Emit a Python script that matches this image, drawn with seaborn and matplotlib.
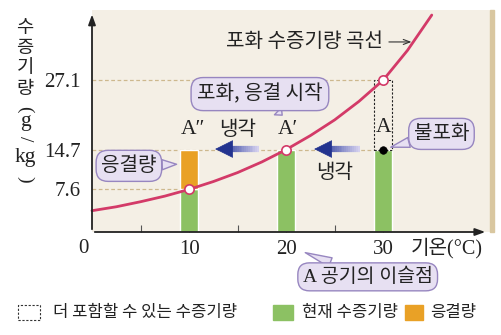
import numpy as np
import pandas as pd
import matplotlib
matplotlib.use("Agg")
import matplotlib.pyplot as plt
import seaborn as sns
from matplotlib.patches import Rectangle
from matplotlib.collections import LineCollection

sns.set_theme(style="white")
KR = "Noto Sans CJK KR"
SERIF = ["Liberation Serif", "Noto Sans CJK KR"]
plt.rcParams["font.family"] = [KR, "DejaVu Sans"]

# ---- data ----
curve_temp = [0, 2.5, 5, 7.5, 10, 12.5, 15, 17.5, 20, 22.5, 25, 27.5, 30, 32.5, 35]
curve_sat = [3.8, 4.5, 5.4, 6.4, 7.6, 9.0, 10.6, 12.5, 14.7, 17.2, 20.0, 23.3, 27.1, 32.4, 38.7]
bar_temp = [10, 20, 30]
bar_current = [7.6, 14.7, 14.7]
cond_temp = [10]
cond_bottom = [7.6]
cond_amount = [7.1]
extra_temp = [30]
extra_bottom = [14.7]
extra_amount = [12.4]
sat_points_t = [10, 20, 30]
sat_points_v = [7.6, 14.7, 27.1]
unsat_t = [30]
unsat_v = [14.7]
ytick_vals = [7.6, 14.7, 27.1]
ytick_labels = ["7.6", "14.7", "27.1"]
xtick_vals = [5, 10, 15, 20, 25, 30]
xtick_labels = ["", "10", "", "20", "", "30"]

GREEN = "#8cc163"
ORANGE = "#e9a126"
CURVE = "#d33a68"
TAN = "#cdb88e"
BOXFC = "#e7e0f2"
BOXEC = "#9786c0"
TXT = "#222222"

W, H = 502, 335
fig = plt.figure(figsize=(W / 100, H / 100), dpi=100)
fig.patch.set_facecolor("white")
x0, y0, x1, y1 = 92, 232, 490, 10
ax = fig.add_axes([x0 / W, (H - y0) / H, (x1 - x0) / W, (y0 - y1) / H])
ax.set_facecolor("#f4efe5")
ax.set_xlim(0, 41.0)
ax.set_ylim(0, 39.6)
for s in ax.spines.values():
    s.set_visible(False)

# right shadow of panel
fig.patches.append(Rectangle((490 / W, (H - 232) / H), 4 / W, 222 / H,
                             transform=fig.transFigure, color="#d9c7a0", zorder=0))

# reference dashed lines
ax.plot([0, 29.0], [27.1, 27.1], ls=(0, (3, 2)), color=TAN, lw=0.9, zorder=1)
ax.plot([0, 30], [14.7, 14.7], ls=(0, (3, 2)), color=TAN, lw=0.9, zorder=1)
ax.plot([0, 10], [7.6, 7.6], ls=(0, (3, 2)), color=TAN, lw=0.9, zorder=1)

# bars
ax.bar(bar_temp, bar_current, width=1.9, color=GREEN, zorder=2)
ax.bar(cond_temp, cond_amount, bottom=cond_bottom, width=1.9, color=ORANGE, zorder=2)
ax.bar(extra_temp, extra_amount, bottom=extra_bottom, width=1.9, fill=False,
       ec="#222222", ls=(0, (2, 1.5)), lw=0.8, zorder=2)

# curve
df = pd.DataFrame({"t": curve_temp, "v": curve_sat})
sns.lineplot(data=df, x="t", y="v", color=CURVE, lw=2, ax=ax, zorder=3, clip_on=False)
sns.scatterplot(x=sat_points_t, y=sat_points_v, s=45, color="white", edgecolor=CURVE,
                linewidth=1.2, ax=ax, zorder=5)
sns.scatterplot(x=unsat_t, y=unsat_v, s=30, color="black", edgecolor="black", ax=ax, zorder=5)
ax.set_xlabel("")
ax.set_ylabel("")

# axes arrows
ax.annotate("", xy=(40.8, 0), xytext=(0, 0),
            arrowprops=dict(arrowstyle="-|>,head_length=0.5,head_width=0.18", color="#222222", lw=1.3),
            annotation_clip=False, zorder=6)
ax.annotate("", xy=(0, 39.3), xytext=(0, 0),
            arrowprops=dict(arrowstyle="-|>,head_length=0.5,head_width=0.18", color="#222222", lw=1.3),
            annotation_clip=False, zorder=6)

# ticks
ax.set_xticks(xtick_vals)
ax.set_xticklabels(xtick_labels, family=SERIF, fontsize=15, color=TXT)
ax.tick_params(axis="x", direction="in", length=5, width=0.8, color="#555555", pad=6, bottom=True)
ax.set_yticks(ytick_vals)
ax.set_yticklabels(ytick_labels, family=SERIF, fontsize=15, color=TXT)
ax.tick_params(axis="y", length=0, pad=8)
ax.text(-0.9, -2.9, "0", ha="center", va="center", family=SERIF, fontsize=15, color=TXT)

# y label stacked vertically
def fy(py):
    return 1 - py / H
yl = [("수", 27, 0, KR, 13.5), ("증", 47, 0, KR, 13.5), ("기", 67, 0, KR, 13.5),
      ("량", 88, 0, KR, 13.5), ("(", 109, -90, SERIF, 14), ("g", 121, 0, SERIF, 15.5),
      ("/", 139, -90, SERIF, 14), ("kg", 157, 0, SERIF, 15.5), (")", 179, -90, SERIF, 14)]
for ch, py, rot, fam, fs in yl:
    fig.text(25 / W, fy(py), ch, ha="center", va="center", rotation=rot, family=fam,
             fontsize=fs, color=TXT)

# labels
ax.text(30.0, 33.9, "포화 수증기량 곡선", ha="right", va="center", fontsize=14.5, color=TXT)
ax.annotate("", xy=(33.2, 33.9), xytext=(30.3, 33.9),
            arrowprops=dict(arrowstyle="->,head_length=0.4,head_width=0.15", color="#333333", lw=0.8))
ax.text(10.4, 18.2, "A″", ha="center", va="center", family=SERIF, fontsize=15.5, color=TXT)
ax.text(15.0, 18.2, "냉각", ha="center", va="center", fontsize=14.5, color=TXT)
ax.text(20.2, 18.2, "A′", ha="center", va="center", family=SERIF, fontsize=15.5, color=TXT)
ax.text(30.0, 18.6, "A", ha="center", va="center", family=SERIF, fontsize=15.5, color=TXT)
ax.text(25.0, 10.7, "냉각", ha="center", va="center", fontsize=14.5, color=TXT)
ax.text(36.5, -2.9, "기온(°C)", ha="center", va="center", family=SERIF, fontsize=14.5, color=TXT)

# blue cooling arrows with gradient shaft
def cool_arrow(xs, xe, y):
    n = 20
    xsamp = np.linspace(xs, xe + 1.0, n + 1)
    segs = [[(xsamp[i], y), (xsamp[i + 1], y)] for i in range(n)]
    c0 = np.array(matplotlib.colors.to_rgb("#d4d0ee"))
    c1 = np.array(matplotlib.colors.to_rgb("#2c3c9c"))
    cols = [tuple(c0 + (c1 - c0) * (i / (n - 1))) for i in range(n)]
    ax.add_collection(LineCollection(segs, colors=cols, linewidths=4.5, zorder=4))
    ax.annotate("", xy=(xe, y), xytext=(xe + 1.4, y),
                arrowprops=dict(arrowstyle="-|>,head_length=1.0,head_width=0.5",
                                color="#23338f", lw=0.5), zorder=4)

cool_arrow(17.2, 12.4, 14.8)
cool_arrow(27.6, 22.6, 14.8)

# callouts
def callout(text, xy_text, xy_target, fam=KR, fs=14.5, pad=0.25):
    ax.annotate(text, xy=xy_target, xytext=xy_text, ha="center", va="center",
                family=fam, fontsize=fs, color=TXT, annotation_clip=False, zorder=7,
                bbox=dict(boxstyle=f"round,pad={pad},rounding_size=0.6", fc=BOXFC, ec=BOXEC, lw=1),
                arrowprops=dict(arrowstyle="wedge,tail_width=0.5,shrink_factor=0.5",
                                fc=BOXFC, ec=BOXEC, lw=1, shrinkA=0, shrinkB=2))

callout("포화, 응결 시작", (17.3, 24.6), (19.8, 20.5), pad=0.3)
callout("불포화", (36.0, 17.5), (30.5, 15.0))
callout("응결량", (3.8, 11.8), (9.0, 12.1))
callout("A 공기의 이슬점", (28.4, -8.0), (21.7, -3.5), fam=SERIF, fs=14)

# legend at bottom
ly = fy(312)
fig.patches.append(Rectangle((18 / W, fy(320)), 22 / W, 15 / H, transform=fig.transFigure,
                             fill=False, ec="#333333", ls=(0, (2, 1.5)), lw=0.8))
fig.text(53 / W, ly, "더 포함할 수 있는 수증기량", ha="left", va="center", fontsize=12, color=TXT)
fig.patches.append(Rectangle((273 / W, fy(320)), 20 / W, 15 / H, transform=fig.transFigure,
                             color=GREEN))
fig.text(302 / W, ly, "현재 수증기량", ha="left", va="center", fontsize=12, color=TXT)
fig.patches.append(Rectangle((405 / W, fy(320)), 18 / W, 15 / H, transform=fig.transFigure,
                             color=ORANGE))
fig.text(430 / W, ly, "응결량", ha="left", va="center", fontsize=12, color=TXT)

fig.savefig("out.png", dpi=100)
